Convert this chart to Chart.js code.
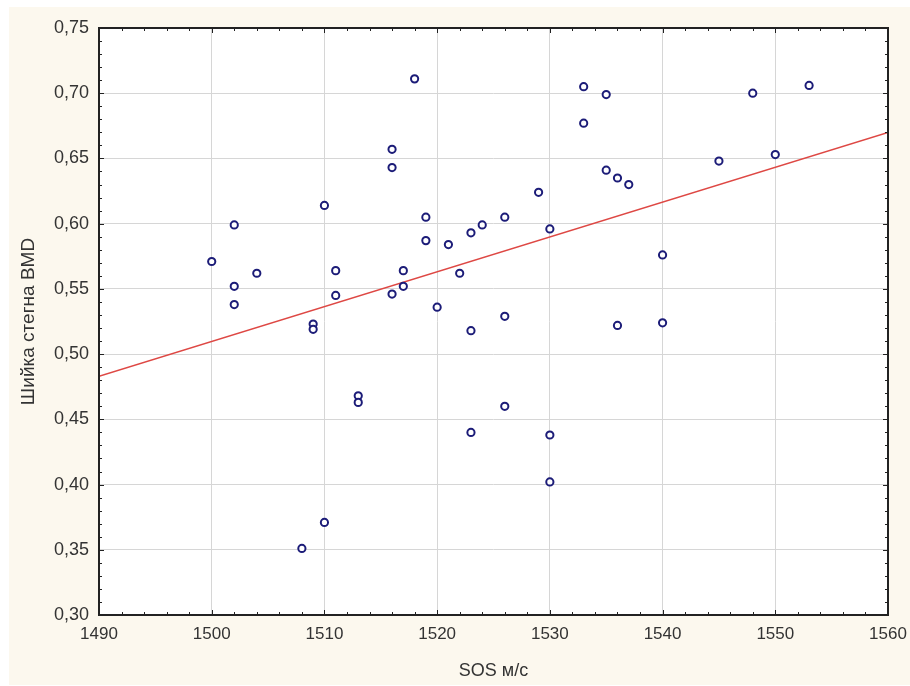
<!DOCTYPE html>
<html>
<head>
<meta charset="utf-8">
<script src="https://cdn.jsdelivr.net/npm/chart.js@4.4.1/dist/chart.umd.min.js"></script>
<style>
    html, body { margin: 0; padding: 0; background: #ffffff; }
    #wrap { width: 910px; height: 686px; }
</style>
</head>
<body>
<div id="wrap"><canvas id="scatterGraph" width="910" height="686"></canvas></div>
<script>
// SOS (м/с) и BMD шейки бедра
const sosValues = [1500, 1502, 1502, 1502, 1504, 1508, 1509, 1509, 1510, 1510,
    1511, 1511, 1513, 1513, 1516, 1516, 1516, 1517, 1517, 1518,
    1519, 1519, 1520, 1521, 1522, 1523, 1523, 1523, 1524, 1526,
    1526, 1526, 1529, 1530, 1530, 1530, 1533, 1533, 1535, 1535,
    1536, 1536, 1537, 1540, 1540, 1545, 1548, 1550, 1553];
const bmdValues = [0.571, 0.599, 0.552, 0.538, 0.562, 0.351, 0.523, 0.519, 0.614, 0.371,
    0.564, 0.545, 0.468, 0.463, 0.657, 0.643, 0.546, 0.564, 0.552, 0.711,
    0.605, 0.587, 0.536, 0.584, 0.562, 0.593, 0.518, 0.440, 0.599, 0.605,
    0.529, 0.460, 0.624, 0.596, 0.438, 0.402, 0.705, 0.677, 0.699, 0.641,
    0.635, 0.522, 0.630, 0.576, 0.524, 0.648, 0.700, 0.653, 0.706];

// линия регрессии (концы)
const fitX = [1490, 1560];
const fitY = [0.483, 0.670];

const xMin = 1490, xMax = 1560, xStep = 10, xMinor = 2;
const yMin = 0.30, yMax = 0.75, yStep = 0.05, yMinor = 0.01;

const points = sosValues.map((x, i) => ({ x: x, y: bmdValues[i] }));
const fitLine = fitX.map((x, i) => ({ x: x, y: fitY[i] }));

// фон и рамка с засечками внутрь
const framePlugin = {
    id: 'frame',
    beforeDraw(chart) {
        const ctx = chart.ctx;
        const a = chart.chartArea;
        ctx.save();
        ctx.fillStyle = '#ffffff';
        ctx.fillRect(0, 0, chart.width, chart.height);
        ctx.fillStyle = '#fcf8ee';
        ctx.fillRect(9, 7, chart.width - 9, chart.height - 8);
        ctx.fillStyle = '#ffffff';
        ctx.fillRect(a.left, a.top, a.right - a.left, a.bottom - a.top);
        ctx.restore();
    },
    afterDatasetsDraw(chart) {
        const ctx = chart.ctx;
        const a = chart.chartArea;
        const xs = chart.scales.x;
        const ys = chart.scales.y;
        ctx.save();
        ctx.strokeStyle = '#222222';
        ctx.lineWidth = 1;
        ctx.beginPath();
        for (let v = xMin; v <= xMax + 1e-9; v += xMinor) {
            const px = Math.round(xs.getPixelForValue(v)) + 0.5;
            const len = (Math.round(v) % xStep === 0) ? 5 : 3;
            ctx.moveTo(px, a.bottom); ctx.lineTo(px, a.bottom - len);
            ctx.moveTo(px, a.top); ctx.lineTo(px, a.top + len);
        }
        for (let k = 0; k <= Math.round((yMax - yMin) / yMinor); k++) {
            const v = yMin + k * yMinor;
            const py = Math.round(ys.getPixelForValue(v)) + 0.5;
            const len = (k % 5 === 0) ? 5 : 3;
            ctx.moveTo(a.left, py); ctx.lineTo(a.left + len, py);
            ctx.moveTo(a.right, py); ctx.lineTo(a.right - len, py);
        }
        ctx.stroke();
        ctx.lineWidth = 2;
        ctx.strokeRect(a.left, a.top, a.right - a.left, a.bottom - a.top);
        ctx.restore();
    }
};

const ctx = document.getElementById('scatterGraph').getContext('2d');

new Chart(ctx, {
    type: 'scatter',
    data: {
        datasets: [
            {
                label: 'fit',
                type: 'line',
                data: fitLine,
                borderColor: 'rgb(222, 72, 68)',
                borderWidth: 1.5,
                pointRadius: 0,
                fill: false,
                order: 2
            },
            {
                label: 'BMD',
                data: points,
                pointStyle: 'circle',
                pointRadius: 3.6,
                pointBorderWidth: 2,
                pointBackgroundColor: '#ffffff',
                pointBorderColor: '#1c1c78',
                order: 1
            }
        ]
    },
    options: {
        responsive: false,
        animation: false,
        layout: {
            padding: { left: 10, right: 22, top: 28, bottom: 0 }
        },
        plugins: {
            legend: { display: false },
            tooltip: { enabled: false }
        },
        scales: {
            x: {
                type: 'linear',
                min: xMin,
                max: xMax,
                afterFit: (scale) => {
                    scale.height = 71;
                    scale.paddingLeft = 0;
                    scale.paddingRight = 0;
                },
                ticks: {
                    stepSize: xStep,
                    padding: 9,
                    color: '#333333',
                    font: { family: 'Liberation Sans', size: 17 },
                    callback: (v) => String(v)
                },
                grid: {
                    color: '#d6d6d6',
                    lineWidth: 1,
                    drawTicks: false
                },
                border: { display: false },
                title: {
                    display: true,
                    text: 'SOS м/с',
                    color: '#333333',
                    font: { family: 'Liberation Sans', size: 18 },
                    padding: { top: 4, bottom: 4 }
                }
            },
            y: {
                type: 'linear',
                min: yMin,
                max: yMax,
                afterFit: (scale) => {
                    scale.width = 89;
                    scale.paddingTop = 0;
                    scale.paddingBottom = 0;
                },
                ticks: {
                    stepSize: yStep,
                    padding: 10,
                    color: '#333333',
                    font: { family: 'Liberation Sans', size: 18 },
                    callback: (v) => v.toFixed(2).replace('.', ',')
                },
                grid: {
                    color: '#d6d6d6',
                    lineWidth: 1,
                    drawTicks: false
                },
                border: { display: false },
                title: {
                    display: true,
                    text: 'Шийка стегна BMD',
                    color: '#333333',
                    font: { family: 'Liberation Sans', size: 19 },
                    padding: { top: 7, bottom: 4 }
                }
            }
        }
    },
    plugins: [framePlugin]
});
</script>
</body>
</html>
